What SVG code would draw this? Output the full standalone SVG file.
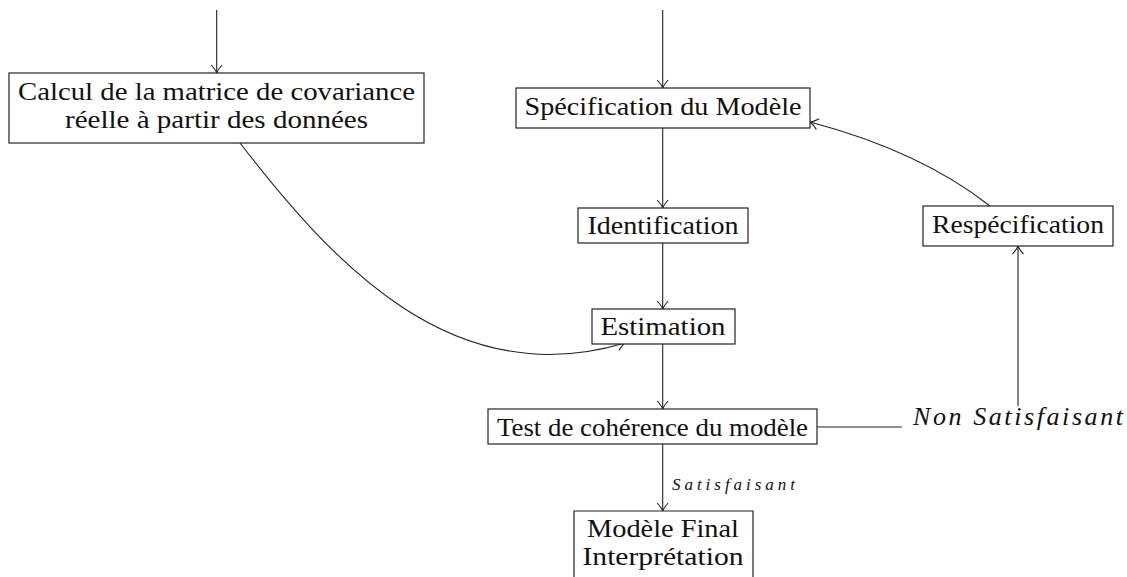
<svg xmlns="http://www.w3.org/2000/svg" width="1127" height="577" viewBox="0 0 1127 577">
<style>
.box{fill:#fff;stroke:#222;stroke-width:1.2}
.t{font-family:"Liberation Serif","DejaVu Serif",serif;font-size:26px;fill:#111;text-anchor:middle}
.it{font-family:"Liberation Serif","DejaVu Serif",serif;font-style:italic;fill:#111}
.c{fill:none;stroke:#222;stroke-width:1.1}
</style>
<defs>
<marker id="arr" markerWidth="14" markerHeight="14" refX="12" refY="7" orient="auto" markerUnits="userSpaceOnUse">
<path d="M4,1.5 Q9,6 12,7 Q9,8 4,12.5" fill="none" stroke="#222" stroke-width="1.1"/>
</marker>
</defs>
<g id="connectors">
<line class="c" x1="216.7" y1="10" x2="216.7" y2="73" marker-end="url(#arr)"/>
<line class="c" x1="662.7" y1="10" x2="662.7" y2="88" marker-end="url(#arr)"/>
<line class="c" x1="662.7" y1="128" x2="662.7" y2="208" marker-end="url(#arr)"/>
<line class="c" x1="662.7" y1="243" x2="662.7" y2="309" marker-end="url(#arr)"/>
<line class="c" x1="662.7" y1="344" x2="662.7" y2="409" marker-end="url(#arr)"/>
<line class="c" x1="662.7" y1="444" x2="662.7" y2="511" marker-end="url(#arr)"/>
<line class="c" x1="817" y1="427" x2="902" y2="427"/>
<line class="c" x1="1018" y1="406" x2="1018" y2="246" marker-end="url(#arr)"/>
<path class="c" d="M990,206 Q920,151 810,122" marker-end="url(#arr)"/>
<path class="c" d="M240,143 C331.5,261.5 452,395 625,343" marker-end="url(#arr)"/>
<text class="it" x="672" y="490" font-size="17" textLength="123" lengthAdjust="spacing">Satisfaisant</text>
</g>
<g id="n-calcul">
<rect class="box" x="9" y="73" width="415" height="70"/>
<text class="t" x="216.5" y="100" textLength="397" lengthAdjust="spacingAndGlyphs">Calcul de la matrice de covariance</text>
<text class="t" x="216.5" y="128" textLength="303" lengthAdjust="spacingAndGlyphs">réelle à partir des données</text>
</g>
<g id="n-spec">
<rect class="box" x="516" y="88" width="294" height="40"/>
<text class="t" x="663" y="115" textLength="277" lengthAdjust="spacingAndGlyphs">Spécification du Modèle</text>
</g>
<g id="n-ident">
<rect class="box" x="578" y="208" width="170" height="35"/>
<text class="t" x="663" y="234" textLength="151" lengthAdjust="spacingAndGlyphs">Identification</text>
</g>
<g id="n-estim">
<rect class="box" x="592" y="309" width="143" height="35"/>
<text class="t" x="663" y="335" textLength="125" lengthAdjust="spacingAndGlyphs">Estimation</text>
</g>
<g id="n-respec">
<rect class="box" x="923" y="206" width="190" height="40"/>
<text class="t" x="1018" y="233" textLength="172" lengthAdjust="spacingAndGlyphs">Respécification</text>
</g>
<g id="n-test">
<rect class="box" x="488" y="409" width="329" height="35"/>
<text class="t" x="652.5" y="436" textLength="311" lengthAdjust="spacingAndGlyphs">Test de cohérence du modèle</text>
</g>
<g id="n-nonsat">
<text class="it" x="913" y="425" font-size="26" textLength="210" lengthAdjust="spacing">Non Satisfaisant</text>
</g>
<g id="n-final">
<path class="box" d="M574,577 V511 H753 V577"/>
<text class="t" x="663" y="537" textLength="152" lengthAdjust="spacingAndGlyphs">Modèle Final</text>
<text class="t" x="663" y="565" textLength="161" lengthAdjust="spacingAndGlyphs">Interprétation</text>
</g>
</svg>
